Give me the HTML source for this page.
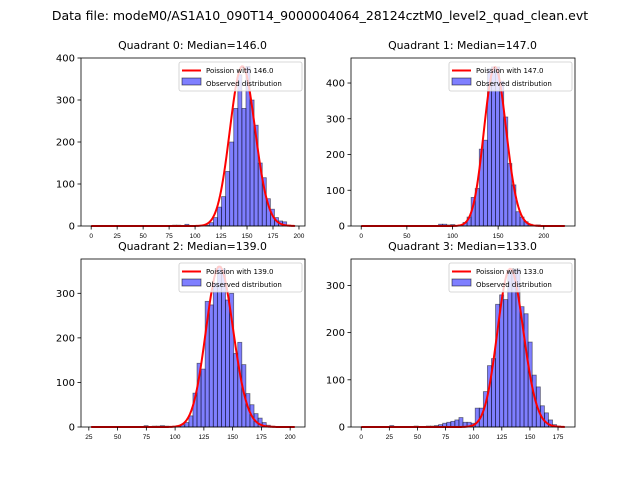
<!DOCTYPE html>
<html><head><meta charset="utf-8"><style>
body{margin:0;background:#fff;}
svg{display:block;font-family:"DejaVu Sans","Liberation Sans",sans-serif;}
</style></head><body>
<svg id="fig" width="640" height="480" viewBox="0 0 640 480" xmlns="http://www.w3.org/2000/svg">
<text x="320" y="20" text-anchor="middle" font-size="12.5">Data file: modeM0/AS1A10_090T14_9000004064_28124cztM0_level2_quad_clean.evt</text>
</svg>
<script>
// ---- data ----
const titles = ["Quadrant 0: Median=146.0","Quadrant 1: Median=147.0","Quadrant 2: Median=139.0","Quadrant 3: Median=133.0"];
const lambdas = [146, 147, 139, 133];
const poissonPeaks = [380, 445, 360, 335];
const binStarts = [0, 0, 27, 0];
const binEnds = [196, 223, 204, 181];
const counts0 = {20:2,21:2,23:4,28:2,29:8,30:20,31:45,32:70,33:130,34:200,35:280,36:360,37:280,38:380,39:300,40:240,41:150,42:115,43:65,44:40,45:20,46:12,47:10,48:2,49:1};
const counts1 = {19:5,20:5,21:3,22:4,24:3,25:10,26:25,27:80,28:105,29:215,30:240,31:440,32:445,33:445,34:405,35:305,36:175,37:115,38:40,39:25,40:12,41:5,43:3,49:1};
const counts2 = {13:3,15:2,16:2,17:3,18:2,20:2,21:3,22:5,23:10,24:25,25:76,26:143,27:130,28:282,29:274,30:323,31:360,32:355,33:285,34:300,35:165,36:190,37:140,38:75,39:50,40:30,41:20,42:10,43:4,44:2};
const counts3 = {7:3,13:2,16:2,17:2,18:3,19:5,20:8,21:10,22:12,23:15,24:20,25:10,26:10,27:8,28:40,29:40,30:75,31:130,32:145,33:260,34:280,35:270,36:330,37:335,38:335,39:255,40:240,41:180,42:110,43:85,44:45,45:30,46:15,47:5,48:2};
const allCounts = [counts0, counts1, counts2, counts3];
const xTicks = [[0,25,50,75,100,125,150,175,200],[0,50,100,150,200],[25,50,75,100,125,150,175,200],[0,25,50,75,100,125,150,175]];
const yTicks = [[0,100,200,300,400],[0,100,200,300,400],[0,100,200,300],[0,100,200,300]];
const xDomains = [[-9.8,205.8],[-11.2,234.2],[18.2,212.9],[-9.1,190.1]];
const yMax = [400, 470, 377, 356];
// ---- layout ----
const boxes = [[81,58,224,168],[351,58,224,168],[81,259,224,168],[351,259,224,168]];
const NS = "http://www.w3.org/2000/svg";
const svg = document.getElementById('fig');
function mk(tag, attrs, parent){const e=document.createElementNS(NS,tag);for(const k in attrs)e.setAttribute(k,attrs[k]);(parent||svg).appendChild(e);return e;}
function logFact(n){let s=0;for(let i=2;i<=n;i++)s+=Math.log(i);return s;}

for(let q=0;q<4;q++){
  const [bx,by,bw,bh]=boxes[q];
  const [x0,x1]=xDomains[q];
  const X=v=>bx+(v-x0)/(x1-x0)*bw;
  const Y=v=>by+bh-v/yMax[q]*bh;
  const g=mk('g',{});
  
  
  const t=mk('text',{x:bx+bw/2-0.5,y:by-9,'text-anchor':'middle','font-size':'10.9'},g);
  t.textContent=titles[q];
  
  
  const bwid=(binEnds[q]-binStarts[q])/50;
  const c=allCounts[q];
  for(let i=0;i<50;i++){
    const v=c[i]||0; if(!v) continue;
    const l=binStarts[q]+i*bwid;
    const r=mk('rect',{x:X(l),y:Y(v),width:X(l+bwid)-X(l),height:Y(0)-Y(v),fill:'rgba(0,0,255,0.5)',stroke:'rgba(0,0,0,0.5)','stroke-width':'0.8'},g);
    
    
  }
  const lam=lambdas[q];
  const pk=Math.floor(lam);
  const pmfPeak=Math.exp(pk*Math.log(lam)-lam-logFact(pk));
  let pts=[];
  for(let k=Math.floor(binStarts[q]);k<=Math.ceil(binEnds[q]);k++){
    const p=Math.exp(k*Math.log(lam)-lam-logFact(k));
    pts.push(X(k).toFixed(2)+','+Y(p/pmfPeak*poissonPeaks[q]).toFixed(2));
  }
  const pl=mk('polyline',{points:pts.join(' '),fill:'none',stroke:'#ff0000','stroke-width':'2'},g);
  
  
  const fr=mk('rect',{x:bx,y:by,width:bw,height:bh,fill:'none',stroke:'#000','stroke-width':'0.8'},g);
  
  
  for(const v of xTicks[q]){
    mk('line',{x1:X(v),x2:X(v),y1:by+bh,y2:by+bh+3.5,stroke:'#000','stroke-width':'0.8'},g);
    const tl=mk('text',{x:X(v),y:by+bh+12,'text-anchor':'middle','font-size':'6.5','font-family':'Liberation Sans Narrow, Liberation Sans, sans-serif'},g);
    tl.textContent=v;
    
    
  }
  for(const v of yTicks[q]){
    mk('line',{x1:bx-3.5,x2:bx,y1:Y(v),y2:Y(v),stroke:'#000','stroke-width':'0.8'},g);
    const tl=mk('text',{x:bx-6,y:Y(v)+3.6,'text-anchor':'end','font-size':'10'},g);
    tl.textContent=v;
    
    
  }
  const lg=mk('g',{},g);
  
  
  const lx=bx+bw-126, ly=by+4;
  mk('rect',{x:lx,y:ly,width:123,height:29,fill:'rgba(255,255,255,0.8)',stroke:'#ccc','stroke-width':'0.8',rx:2},lg);
  mk('line',{x1:lx+3,x2:lx+22,y1:ly+8.5,y2:ly+8.5,stroke:'#ff0000','stroke-width':'2'},lg);
  const l1=mk('text',{x:lx+27,y:ly+11,'font-size':'7'},lg);
  l1.textContent='Poission with '+lambdas[q].toFixed(1);
  
  
  mk('rect',{x:lx+3,y:ly+16,width:19,height:7,fill:'rgba(0,0,255,0.5)',stroke:'rgba(0,0,0,0.6)','stroke-width':'0.8'},lg);
  const l2=mk('text',{x:lx+27,y:ly+24,'font-size':'7'},lg);
  l2.textContent='Observed distribution';
  
  
}
</script>
</body></html>
